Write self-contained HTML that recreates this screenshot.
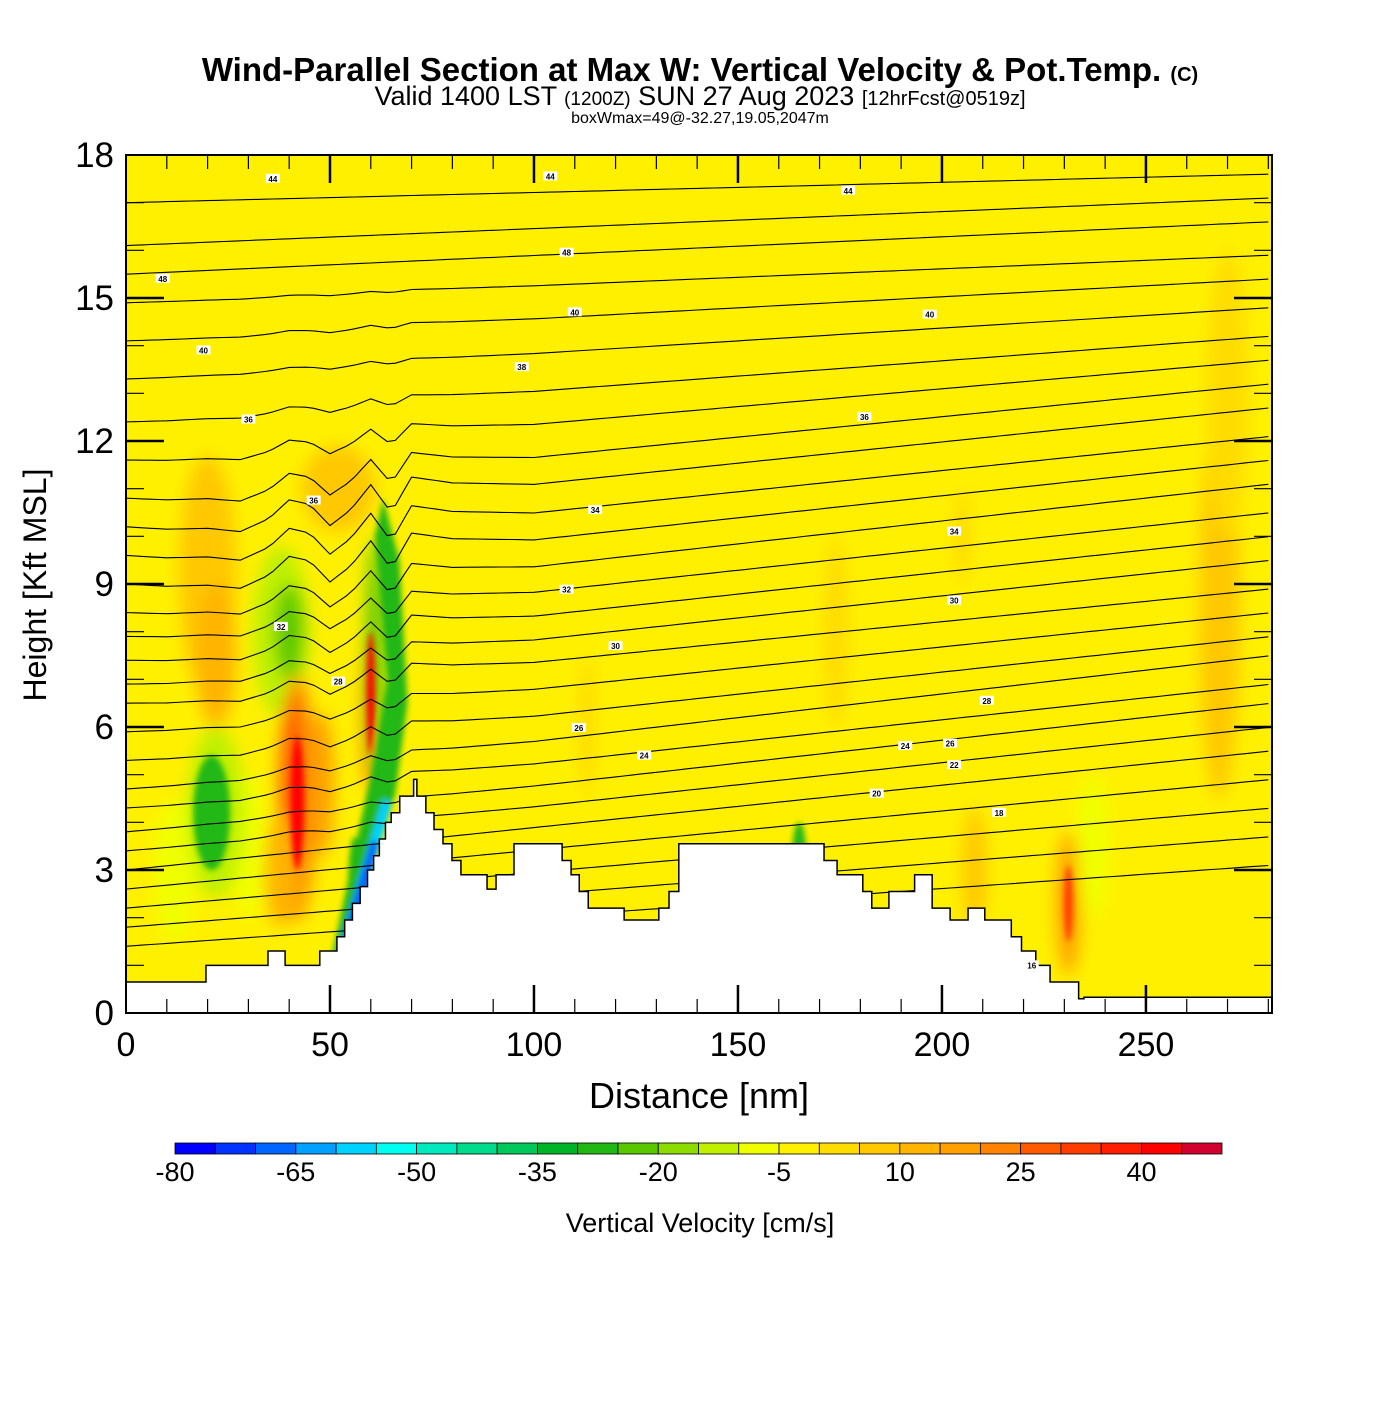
<!DOCTYPE html>
<html><head><meta charset="utf-8"><style>
body{margin:0;background:#fff;}
svg text{font-family:"Liberation Sans",sans-serif;}
</style></head><body>
<svg id="chart" width="1400" height="1400" viewBox="0 0 1400 1400" xmlns="http://www.w3.org/2000/svg">
<defs>
<clipPath id="plotclip"><rect x="126" y="155" width="1146" height="858"/></clipPath>
<filter id="blur" x="-50%" y="-50%" width="200%" height="200%"><feGaussianBlur stdDeviation="8"/></filter>
<filter id="blur2" x="-50%" y="-50%" width="200%" height="200%"><feGaussianBlur stdDeviation="3"/></filter>
</defs>
<text x="700" y="81" text-anchor="middle" font-size="33" font-weight="bold">Wind-Parallel Section at Max W: Vertical Velocity &amp; Pot.Temp. <tspan font-size="20">(C)</tspan></text>
<text x="700" y="105" text-anchor="middle" font-size="27">Valid 1400 LST <tspan font-size="19">(1200Z)</tspan> SUN 27 Aug 2023 <tspan font-size="20">[12hrFcst@0519z]</tspan></text>
<text x="700" y="123" text-anchor="middle" font-size="16">boxWmax=49@-32.27,19.05,2047m</text>
<g id="plot" clip-path="url(#plotclip)">
<rect x="126" y="155" width="1146" height="858" fill="#fff000"/>
<g id="blobs" filter="url(#blur)"></g>
<g id="blobs2" filter="url(#blur2)"></g>
<g id="contours"></g>
<path id="terrain" fill="#fff" stroke="#000" stroke-width="1.5"/>
<g id="labels"></g>
</g>
<rect x="126" y="155" width="1146" height="858" fill="none" stroke="#000" stroke-width="2"/>
<g id="ticks"></g>
<text transform="translate(46,585) rotate(-90)" text-anchor="middle" font-size="32">Height [Kft MSL]</text>
<text x="699" y="1108" text-anchor="middle" font-size="36">Distance [nm]</text>
<g id="colorbar"></g>
<text x="700" y="1232" text-anchor="middle" font-size="27">Vertical Velocity [cm/s]</text>
</svg>
<script>
// ---- data ----
const xTicks=[0,50,100,150,200,250];
const yTicks=[0,3,6,9,12,15,18];
const cbLevels=[-80,-75,-70,-65,-60,-55,-50,-45,-40,-35,-30,-25,-20,-15,-10,-5,0,5,10,15,20,25,30,35,40,45,50];
const cbColors=["#0000ff","#0033ff","#0066ff","#00a0ff","#00d2ff","#00fff0","#00eabe","#00dc8c","#00c85a","#00b428","#22b814","#5ac800","#8cdc00","#bef000","#f0ff00","#fff000","#ffdc00","#ffc800","#ffb400","#ffa000","#ff8200","#ff5a00","#ff3c00","#ff1e00","#ff0000","#d2002d"];
const cbLabels=[-80,-65,-50,-35,-20,-5,10,25,40];
const terrX=[0,19.6,34.8,39,47.5,51.7,53.6,55.5,57.4,59.2,60.7,62.1,63.6,65,67.1,70.5,71.3,73.5,75.5,77.7,79.9,82.1,88.5,90.7,95.1,104.7,106.9,109.1,111.1,113.3,122.1,130.6,133.1,135.5,169,171.1,174.3,180.6,182.8,187,193.3,197.6,202,206.4,210.5,217,219.5,223,226.5,233.5,234.8];
const terrH=[0.65,1.0,1.3,1.0,1.3,1.6,1.95,2.3,2.65,3.0,3.3,3.65,4.0,4.2,4.55,4.9,4.55,4.2,3.85,3.55,3.2,2.9,2.6,2.9,3.55,3.55,3.2,2.9,2.55,2.2,1.95,2.2,2.55,3.55,3.55,3.2,2.9,2.55,2.2,2.55,2.9,2.2,1.95,2.2,1.95,1.6,1.3,1.0,0.65,0.3,0.33];
const xMaxNm=280.9;
const lineLeft=[17.0,16.1,15.5,14.9,14.1,13.3,12.4,11.6,10.8,10.2,9.6,9.0,8.4,7.9,7.4,6.9,6.5,5.9,5.3,4.7,4.3,3.8,3.4,3.0,2.6,2.2,1.8,1.4];
const lineRight=[17.6,17.1,16.6,15.9,15.4,14.8,14.2,13.7,13.2,12.7,12.1,11.6,11.1,10.5,10.0,9.5,8.9,8.4,7.9,7.5,6.9,6.5,6.0,5.5,4.9,4.3,3.7,3.1];
const lineWave=[0,0,0,0.05,0.1,0.1,0.2,0.4,0.6,0.7,0.7,0.7,0.6,0.5,0.5,0.4,0.4,0.3,0.3,0.2,0.2,0.1,0.1,0,0,0,0,0];
const waveNm=[0,10,20,28,35,40,45,50,55,60,65,70,80,100,140,280];
const waveShape=[0,-0.2,-0.3,-0.5,-0.2,0.3,0.1,-0.6,-0.2,0.5,-0.4,0.6,0.3,0,0,0];
const blobX=[20,52,22,12,38,40,42,48,30,21,41,42,60,60,231,231,208,237,268,165,61,56,270,174,205,113,22,38];
const blobY=[9.2,11.0,7.5,3,8.0,8.0,4.5,4.8,3.5,4.2,4.6,4.4,6.5,6.7,2.3,2.3,3,3.5,8.5,3.2,7.5,2.5,13,8,10,6,4.2,3];
const blobW=[7,9,5,5,7,3.5,5,3,4,4.5,3,1.6,2,1,3,1.1,3,4,5,1.8,2.2,1.6,5,3,2,2,7,4];
const blobH=[2.5,0.9,1.5,1.5,1.8,1,2.6,1.5,1.5,1.2,2.2,1.4,1.8,1.3,1.5,0.8,1.3,1.5,4,0.8,2.5,1.2,3,2,1,1.5,1.8,1.2];
const blobV=[5,5,10,-10,-15,-25,15,15,-10,-30,25,40,25,40,15,30,5,-10,5,-30,-25,-30,0,0,0,0,-15,10];
const labelTxt=["44","44","44","48","48","40","40","40","38","36","36","36","34","34","32","32","30","30","28","28","26","26","24","24","22","20","18","16"];
const labelNm=[36,104,177,9,108,19,110,197,97,30,181,46,115,203,38,108,120,203,52,211,111,202,127,191,203,184,214,222];
const labelK=[17.5,17.55,17.25,15.4,15.95,13.9,14.7,14.65,13.55,12.45,12.5,10.75,10.55,10.1,8.1,8.88,7.7,8.65,6.95,6.55,5.98,5.65,5.4,5.6,5.2,4.6,4.2,1.0];
// ---- axes ----
const X=nm=>126+nm*(1146/xMaxNm);
const Y=k=>1013-k*(858/18);
const NS="http://www.w3.org/2000/svg";
function mk(tag,attrs,parent){const e=document.createElementNS(NS,tag);for(const k in attrs)e.setAttribute(k,attrs[k]);parent.appendChild(e);return e;}
const colorFor=v=>{for(let i=0;i<cbColors.length;i++){if(v<cbLevels[i+1])return cbColors[i];}return cbColors[cbColors.length-1];};
const bg=document.getElementById('blobs'),bg2=document.getElementById('blobs2');
blobX.forEach((bx,i)=>{
  const par=blobV[i]>=30||blobV[i]<=-30?bg2:bg;
  const e=mk('ellipse',{cx:X(bx),cy:Y(blobY[i]),rx:blobW[i]*4.08,ry:blobH[i]*47.67,fill:colorFor(blobV[i])},par);
  
  
});
const band=[[50,1.0],[53,1.0],[59,2.6],[66,4.6],[69,6.5],[67,9.5],[63,10.8],[61,10],[64,7],[60,5],[55,3]];
const bp=mk('polygon',{points:band.map(p=>X(p[0])+','+Y(p[1])).join(' '),fill:"#22b814"},bg2);


const cyanBand=[[51,1.0],[54,1.0],[60,2.8],[65,4.4],[63,4.5],[57,2.8]];
const cp=mk('polygon',{points:cyanBand.map(p=>X(p[0])+','+Y(p[1])).join(' '),fill:"#00d2ff"},bg2);


const blueBand=[[53,1.6],[57,1.6],[62,3.6],[60,3.6]];
const bl=mk('polygon',{points:blueBand.map(p=>X(p[0])+','+Y(p[1])).join(' '),fill:"#0066ff"},bg2);


const cg=document.getElementById('contours');
lineLeft.forEach((lh,i)=>{
  const pts=[];
  for(let nm=0;nm<=xMaxNm;nm+=2){
    let w=0;
    for(let s=0;s<waveNm.length-1;s++){if(nm>=waveNm[s]&&nm<=waveNm[s+1]){const t=(nm-waveNm[s])/(waveNm[s+1]-waveNm[s]);w=waveShape[s]+(waveShape[s+1]-waveShape[s])*t;break;}}
    const h=lh+(lineRight[i]-lh)*(nm/xMaxNm)+w*lineWave[i];
    pts.push(X(nm).toFixed(1)+','+Y(h).toFixed(1));
  }
  const p=mk('polyline',{points:pts.join(' '),fill:'none',stroke:'#000','stroke-width':1.1},cg);
  
  
});
let d='M'+X(0)+','+Y(-1);
terrX.forEach((tx,i)=>{const nx=i+1<terrX.length?terrX[i+1]:xMaxNm+1;d+=' L'+X(tx)+','+Y(terrH[i])+' L'+X(nx)+','+Y(terrH[i]);});
d+=' L'+X(xMaxNm+1)+','+Y(-1)+' Z';
document.getElementById('terrain').setAttribute('d',d);
const lg=document.getElementById('labels');
labelTxt.forEach((t,i)=>{
  const g=mk('g',{},lg);
  
  
  mk('rect',{x:X(labelNm[i])-7,y:Y(labelK[i])-5,width:14,height:9,fill:'#fff'},g);
  const tx=mk('text',{x:X(labelNm[i]),y:Y(labelK[i])+3,'font-size':8,'font-weight':'bold','text-anchor':'middle'},g);
  tx.textContent=t;
});
const tg=document.getElementById('ticks');
for(let nm=10;nm<xMaxNm;nm+=10){
  const major=nm%50===0,len=major?28:14,sw=major?2.5:1.2;
  mk('line',{x1:X(nm),y1:1013,x2:X(nm),y2:1013-len,stroke:'#000','stroke-width':sw},tg);
  mk('line',{x1:X(nm),y1:155,x2:X(nm),y2:155+len,stroke:'#000','stroke-width':sw},tg);
}
for(let k=1;k<18;k++){
  const major=k%3===0,len=major?38:18,sw=major?2.5:1.2;
  mk('line',{x1:126,y1:Y(k),x2:126+len,y2:Y(k),stroke:'#000','stroke-width':sw},tg);
  mk('line',{x1:1272,y1:Y(k),x2:1272-len,y2:Y(k),stroke:'#000','stroke-width':sw},tg);
}
xTicks.forEach(v=>{
  const t=mk('text',{x:X(v),y:1056,'text-anchor':'middle','font-size':34},tg);
  
  
  t.textContent=v;
});
yTicks.forEach(v=>{
  const t=mk('text',{x:114,y:Y(v)+12,'text-anchor':'end','font-size':35},tg);
  
  
  t.textContent=v;
});
const cb=document.getElementById('colorbar');
const CBX=v=>175+(v+80)*(1047/130);
cbColors.forEach((c,i)=>{
  const r=mk('rect',{x:CBX(cbLevels[i]),y:1143,width:CBX(cbLevels[i+1])-CBX(cbLevels[i]),height:11,fill:c,stroke:'#000','stroke-width':0.8},cb);
  
  
});
cbLabels.forEach(v=>{
  const t=mk('text',{x:CBX(v),y:1181,'text-anchor':'middle','font-size':27},cb);
  
  
  t.textContent=v;
});
</script>
</body></html>
